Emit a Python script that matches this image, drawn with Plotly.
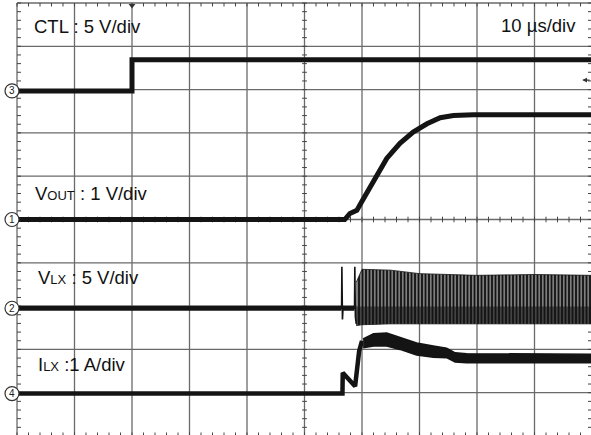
import plotly.graph_objects as go

# ---- scope settings -------------------------------------------------------
# time base: 10 us/div, trigger at t = 0 (2 div from the left edge)
# vertical: screen measured in divisions, centre line = 0 div
DIV_T = 10.0
CH_OFFSET = {"CTL": 2.97, "VOUT": 0.0, "VLX": -2.05, "ILX": -4.02}   # div
CH_SCALE = {"CTL": 5.0, "VOUT": 1.0, "VLX": 5.0, "ILX": 1.0}         # unit/div

# ---- waveform data --------------------------------------------------------
ctl_t = [-20, 0, 0, 80]
ctl_v = [0, 0, 3.6, 3.6]

vout_t = [-20, 37.0, 37.9, 39.1, 39.9, 41.4, 42.6, 44.3, 46.6, 48.9, 51.3,
          53.6, 55.9, 59.4, 80]
vout_v = [0, 0, 0.14, 0.21, 0.40, 0.75, 1.02, 1.41, 1.76, 2.02, 2.21,
          2.35, 2.40, 2.42, 2.42]

# LX node before switching starts (two start-up spikes)
vlx_t = [-20, 36.45, 36.5, 36.6, 36.7, 38.7, 38.75, 38.85, 39.0]
vlx_v = [0, 0, 4.8, -1.3, 0, 0, 4.8, -1.0, -1.8]
# envelope of the switching waveform
vlx_env_t = [39.0, 40.0, 45.0, 50.0, 60.0, 70.0, 80.0]
vlx_hi = [3.0, 4.5, 4.4, 4.0, 3.8, 3.9, 3.8]
vlx_lo = [-2.0, -1.9, -1.8, -1.8, -1.8, -1.8, -1.8]
vlx_mid = [0.2, 0.2, 0.2, 0.2, 0.2, 0.2, 0.2]   # lower, denser part of the band

ilx_t = [-20, 36.6, 36.65, 38.8, 39.5, 39.9, 40.2]
ilx_a = [0, 0, 0.48, 0.17, 0.98, 1.17, 1.16]
# inductor current ripple envelope
ilx_env_t = [40.2, 42.0, 44.3, 46.6, 49.5, 52.4, 54.7, 56.2, 58.2, 80.0]
ilx_hi = [1.26, 1.38, 1.40, 1.30, 1.17, 1.10, 1.05, 0.94, 0.92, 0.91]
ilx_lo = [1.06, 1.10, 1.10, 1.02, 0.89, 0.84, 0.83, 0.73, 0.71, 0.71]

channel_labels = [
    ("CTL : 5 V/div", -17.45, 4.45),
    ("V<span style='font-size:13px'>OUT</span> : 1 V/div", -17.2, 0.6),
    ("V<span style='font-size:13px'>LX</span> : 5 V/div", -16.7, -1.33),
    ("I<span style='font-size:13px'>LX</span> :1 A/div", -16.7, -3.35),
]
timebase_label = ("10 \u00b5s/div", 63.8, 4.47)

# ---- geometry ----------------------------------------------------------------
W, H = 591, 435
PX_T = 5.75      # px per us
PX_D = 43.3      # px per div
ML, MT = 16, 2
x_lo = -20 - 1 / PX_T
x_hi = x_lo + (W - ML) / PX_T
y_hi = 5 + 1 / PX_D
y_lo = y_hi - (H - MT) / PX_D


def to_div(ch, vals):
    return [CH_OFFSET[ch] + v / CH_SCALE[ch] for v in vals]


fig = go.Figure()

# graticule
GRID = "#6a6a6a"
gx, gy = [], []
for k in range(11):
    t = -20 + k * DIV_T
    gx += [t, t, None]
    gy += [-5, 5, None]
for k in range(11):
    d = -5 + k
    gx += [-20, 80, None]
    gy += [d, d, None]
fig.add_trace(go.Scatter(x=gx, y=gy, mode="lines", hoverinfo="skip",
                         line=dict(color=GRID, width=1.3)))

# minor ticks (5 per division) on the frame and centre axes
tx, ty = [], []
lt = 4 / PX_T      # 4 px in time units
ld = 3.5 / PX_D    # 3.5 px in div units
for k in range(51):
    t = -20 + k * DIV_T / 5
    tx += [t, t, None, t, t, None, t, t, None]
    ty += [5, 5 - ld, None, -5, -5 + ld, None, -ld * 0.8, ld * 0.8, None]
for k in range(51):
    d = -5 + k / 5
    tx += [-20, -20 + lt, None, 80, 80 - lt, None, 30 - lt * 0.6, 30 + lt * 0.6, None]
    ty += [d, d, None, d, d, None, d, d, None]
fig.add_trace(go.Scatter(x=tx, y=ty, mode="lines", hoverinfo="skip",
                         line=dict(color="#444444", width=1)))

INK = "#141414"

# CTL
fig.add_trace(go.Scatter(x=ctl_t, y=to_div("CTL", ctl_v), mode="lines",
                         line=dict(color=INK, width=5)))

# VOUT
fig.add_trace(go.Scatter(x=vout_t, y=to_div("VOUT", vout_v), mode="lines",
                         line=dict(color=INK, width=5)))

# VLX switching band: dark pulses with thin light gaps between them
band_x = vlx_env_t + vlx_env_t[::-1]
band_y = to_div("VLX", vlx_hi) + to_div("VLX", vlx_lo)[::-1]
fig.add_trace(go.Scatter(x=band_x, y=band_y, mode="lines", fill="toself",
                         fillcolor="rgba(0,0,0,0)",
                         fillpattern=dict(shape="|", size=3.5, solidity=0.45,
                                          fgcolor="white", bgcolor="#141414"),
                         line=dict(color=INK, width=0.8)))
low_y = to_div("VLX", vlx_mid) + to_div("VLX", vlx_lo)[::-1]
fig.add_trace(go.Scatter(x=band_x, y=low_y, mode="lines", fill="toself",
                         fillcolor="rgba(0,0,0,0)",
                         fillpattern=dict(shape="|", size=3.5, solidity=0.2,
                                          fgcolor="white", bgcolor="#141414"),
                         line=dict(color=INK, width=0)))
# VLX before switching: thin spikes + thick baseline
fig.add_trace(go.Scatter(x=vlx_t, y=to_div("VLX", vlx_v), mode="lines",
                         line=dict(color=INK, width=1.6)))
base_x = [vlx_t[0], vlx_t[1], None, vlx_t[4], vlx_t[5]]
base_y = to_div("VLX", [vlx_v[0], vlx_v[1]]) + [None] + to_div("VLX", [vlx_v[4], vlx_v[5]])
fig.add_trace(go.Scatter(x=base_x, y=base_y, mode="lines",
                         line=dict(color=INK, width=5)))

# ILX
fig.add_trace(go.Scatter(x=ilx_t, y=to_div("ILX", ilx_a), mode="lines",
                         line=dict(color=INK, width=4.5)))
ib_x = ilx_env_t + ilx_env_t[::-1]
ib_y = to_div("ILX", ilx_hi) + to_div("ILX", ilx_lo)[::-1]
fig.add_trace(go.Scatter(x=ib_x, y=ib_y, mode="lines", fill="toself",
                         fillcolor=INK, line=dict(color=INK, width=1.5)))

# trigger position marker at the top edge
fig.add_trace(go.Scatter(x=[0], y=[5 - 2.5 / PX_D], mode="markers", cliponaxis=False,
                         marker=dict(symbol="triangle-down", size=6, color="#333333")))

annotations = []
font_main = dict(family="Liberation Sans, Arial, sans-serif", size=18.5, color="#111111")
for txt, t, d in channel_labels + [timebase_label]:
    annotations.append(dict(x=t, y=d, xref="x", yref="y", text=txt, showarrow=False,
                            xanchor="left", yanchor="middle", font=font_main))

# channel ground markers on the left edge
shapes = []
for ch, num in (("CTL", "3"), ("VOUT", "1"), ("VLX", "2"), ("ILX", "4")):
    y0 = CH_OFFSET[ch]
    shapes.append(dict(type="circle", xref="paper", yref="y", xsizemode="pixel",
                       ysizemode="pixel", xanchor=0, yanchor=y0,
                       x0=-11, x1=3, y0=-7, y1=7,
                       line=dict(color="#333333", width=1.2), fillcolor="white",
                       layer="above"))
    annotations.append(dict(x=0, y=y0, xref="paper", yref="y", xshift=-4, text=num,
                            showarrow=False, xanchor="center", yanchor="middle",
                            font=dict(family="Liberation Sans, Arial, sans-serif",
                                      size=10, color="#222222")))

# trigger level arrow at the right edge
annotations.append(dict(x=78.3, y=3.22, xref="x", yref="y", ax=12, ay=0,
                        showarrow=True, arrowhead=2, arrowsize=0.8, arrowwidth=1.2,
                        arrowcolor="#333333", text=""))

fig.update_layout(
    width=W, height=H,
    margin=dict(l=ML, r=0, t=MT, b=0),
    paper_bgcolor="white", plot_bgcolor="white",
    showlegend=False,
    xaxis=dict(range=[x_lo, x_hi], visible=False, fixedrange=True),
    yaxis=dict(range=[y_lo, y_hi], visible=False, fixedrange=True),
    annotations=annotations,
    shapes=shapes,
)

fig.write_html("out.html")
